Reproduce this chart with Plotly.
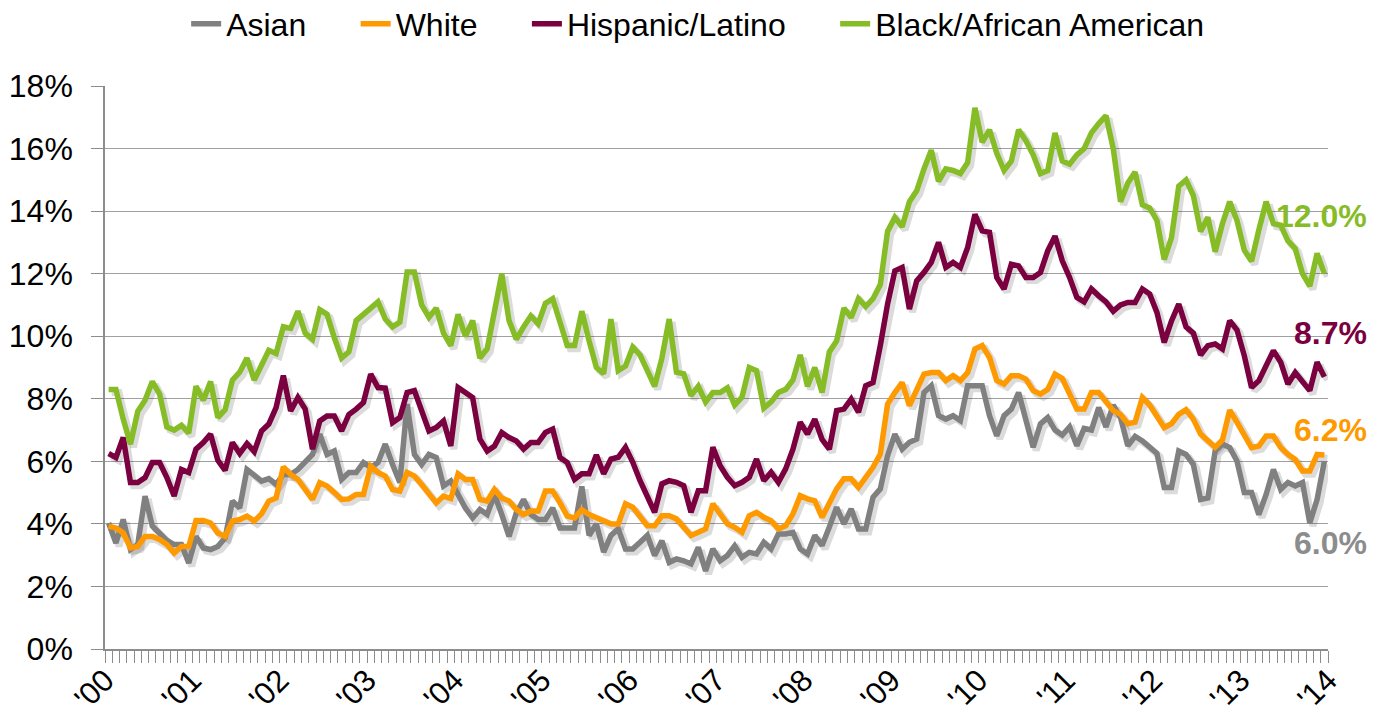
import plotly.graph_objects as go

# Monthly unemployment rates, Jan 2000 - Dec 2013 (%)
asian = [4.03, 3.39, 4.14, 3.18, 3.34, 4.89, 3.93, 3.71, 3.47, 3.34, 3.34, 2.75,
         3.6, 3.23, 3.18, 3.28, 3.55, 4.73, 4.51, 5.74, 5.58, 5.37, 5.45, 5.26,
         5.58, 5.58, 5.74, 5.96, 6.22, 6.87, 6.22, 6.33, 5.42, 5.64, 5.64, 5.96,
         5.8, 5.96, 6.55, 5.9, 5.32, 7.83, 6.22, 5.9, 6.22, 6.12, 5.21, 5.37,
         4.94, 4.51, 4.19, 4.46, 4.3, 4.94, 4.3, 3.6, 4.35, 4.78, 4.3, 4.14,
         4.14, 4.51, 3.87, 3.87, 3.87, 5.2, 3.63, 4.0, 3.1, 3.63, 3.84, 3.2,
         3.2, 3.41, 3.63, 2.99, 3.46, 2.77, 2.88, 2.82, 2.72, 3.25, 2.5, 3.2,
         2.82, 2.99, 3.3, 2.93, 3.09, 3.04, 3.41, 3.2, 3.68, 3.68, 3.73, 3.2,
         3.04, 3.63, 3.31, 3.9, 4.53, 4.0, 4.48, 3.84, 3.84, 4.85, 5.12, 6.18,
         6.87, 6.39, 6.61, 6.71, 8.2, 8.42, 7.46, 7.35, 7.46, 7.3, 8.42, 8.42,
         8.42, 7.46, 6.82, 7.46, 7.67, 8.2, 7.35, 6.45, 7.2, 7.4, 7.0, 6.84,
         7.1, 6.5, 7.05, 7.0, 7.72, 7.1, 7.8, 7.4, 6.5, 6.8, 6.65, 6.45,
         6.25, 5.16, 5.16, 6.33, 6.22, 5.9, 4.78, 4.83, 6.33, 6.55, 6.44, 6.01,
         5.0, 5.0, 4.3, 4.94, 5.74, 5.1, 5.32, 5.21, 5.32, 4.03, 4.78, 6.0]

white = [3.93, 3.87, 3.71, 3.23, 3.28, 3.6, 3.6, 3.5, 3.34, 3.07, 3.28, 3.28,
         4.11, 4.11, 4.03, 3.71, 3.6, 4.09, 4.14, 4.25, 4.09, 4.32, 4.73, 4.83,
         5.82, 5.58, 5.42, 5.1, 4.78, 5.32, 5.21, 5.0, 4.78, 4.8, 4.94, 4.94,
         5.85, 5.64, 5.53, 5.1, 5.05, 5.64, 5.53, 5.26, 4.94, 4.67, 4.89, 4.81,
         5.6, 5.42, 5.42, 4.78, 4.73, 5.1, 4.83, 4.73, 4.46, 4.3, 4.41, 4.41,
         5.05, 5.05, 4.67, 4.25, 4.19, 4.45, 4.3, 4.2, 4.1, 4.0, 4.0, 4.64,
         4.53, 4.26, 3.94, 3.94, 4.26, 4.26, 4.16, 3.89, 3.63, 3.73, 3.84, 4.64,
         4.32, 4.0, 3.89, 3.73, 4.26, 4.37, 4.21, 4.1, 3.84, 3.94, 4.32, 4.9,
         4.8, 4.74, 4.21, 4.7, 5.12, 5.44, 5.44, 5.17, 5.49, 5.81, 6.23, 7.83,
         8.2, 8.52, 7.78, 8.31, 8.79, 8.84, 8.84, 8.58, 8.74, 8.58, 8.84, 9.59,
         9.7, 9.32, 8.58, 8.47, 8.74, 8.74, 8.63, 8.26, 8.15, 8.3, 8.79, 8.65,
         8.2, 7.67, 7.67, 8.2, 8.2, 7.88, 7.62, 7.5, 7.2, 7.25, 8.04, 7.8,
         7.46, 7.08, 7.2, 7.5, 7.65, 7.35, 6.87, 6.63, 6.45, 6.68, 7.64, 7.25,
         6.87, 6.44, 6.49, 6.81, 6.81, 6.44, 6.22, 6.06, 5.69, 5.69, 6.22, 6.2]

hispanic = [6.25, 6.12, 6.76, 5.32, 5.32, 5.48, 5.96, 5.96, 5.48, 4.89, 5.74, 5.64,
            6.39, 6.6, 6.87, 6.03, 5.71, 6.6, 6.25, 6.57, 6.31, 6.97, 7.19, 7.72,
            8.74, 7.61, 8.04, 7.67, 6.39, 7.29, 7.45, 7.45, 6.97, 7.5, 7.67, 7.88,
            8.79, 8.36, 8.34, 7.24, 7.4, 8.2, 8.26, 7.61, 6.97, 7.08, 7.29, 6.49,
            8.36, 8.2, 8.04, 6.71, 6.33, 6.49, 6.92, 6.76, 6.65, 6.39, 6.6, 6.6,
            6.92, 7.03, 6.12, 5.96, 5.42, 5.6, 5.6, 6.2, 5.6, 6.07, 6.13, 6.45,
            5.97, 5.38, 4.85, 4.37, 5.28, 5.38, 5.33, 5.22, 4.37, 5.06, 5.06, 6.45,
            5.86, 5.49, 5.22, 5.33, 5.49, 6.07, 5.38, 5.65, 5.33, 5.76, 6.39, 7.25,
            6.87, 7.35, 6.7, 6.39, 7.62, 7.67, 7.99, 7.57, 8.42, 8.52, 9.7, 11.03,
            12.09, 12.2, 10.87, 11.77, 12.04, 12.36, 13.0, 12.2, 12.36, 12.2, 12.84, 13.9,
            13.37, 13.32, 11.88, 11.51, 12.3, 12.25, 11.88, 11.88, 12.04, 12.73, 13.2, 12.41,
            11.88, 11.24, 11.1, 11.51, 11.29, 11.1, 10.8, 11.0, 11.08, 11.08, 11.51, 11.35,
            10.76, 9.8, 10.49, 11.03, 10.3, 10.1, 9.4, 9.7, 9.75, 9.59, 10.5, 10.2,
            9.38, 8.36, 8.58, 9.05, 9.54, 9.17, 8.47, 8.84, 8.55, 8.26, 9.17, 8.7]

black = [8.3, 8.3, 7.35, 6.55, 7.6, 7.95, 8.55, 8.15, 7.1, 7.0, 7.15, 6.9,
         8.4, 7.95, 8.55, 7.4, 7.65, 8.6, 8.85, 9.3, 8.6, 9.1, 9.55, 9.45,
         10.3, 10.25, 10.8, 10.1, 9.9, 10.85, 10.7, 9.95, 9.3, 9.5, 10.5, 10.7,
         10.9, 11.1, 10.55, 10.3, 10.45, 12.05, 12.05, 11.0, 10.6, 10.9, 10.1, 9.7,
         10.7, 10.0, 10.5, 9.3, 9.6, 10.9, 12.0, 10.5, 9.9, 10.3, 10.65, 10.4,
         11.05, 11.2, 10.45, 9.7, 9.7, 10.8, 9.85, 9.0, 8.8, 10.55, 8.9, 9.05,
         9.65, 9.4, 8.9, 8.4, 9.3, 10.55, 8.85, 8.8, 8.1, 8.4, 7.9, 8.2,
         8.2, 8.35, 7.8, 8.05, 9.0, 8.9, 7.7, 7.9, 8.2, 8.3, 8.6, 9.4,
         8.4, 9.0, 8.2, 9.5, 9.85, 10.9, 10.6, 11.2, 10.95, 11.2, 11.65, 13.35,
         13.8, 13.5, 14.3, 14.65, 15.35, 15.95, 14.95, 15.35, 15.3, 15.2, 15.55, 17.3,
         16.2, 16.6, 15.85, 15.3, 15.6, 16.6, 16.25, 15.8, 15.2, 15.3, 16.5, 15.6,
         15.5, 15.8, 16.0, 16.5, 16.8, 17.05, 16.0, 14.3, 14.9, 15.25, 14.2, 14.1,
         13.7, 12.45, 13.15, 14.8, 15.0, 14.5, 13.35, 13.8, 12.7, 13.6, 14.3, 13.7,
         12.75, 12.4, 13.4, 14.3, 13.6, 13.55, 13.05, 12.8, 12.0, 11.6, 12.65, 12.0]

series_names = ["Asian", "White", "Hispanic/Latino", "Black/African American"]
series_values = [asian, white, hispanic, black]
series_colors = ["#808080", "#FF9900", "#7A0040", "#86BC25"]
label_colors = ["#8C8C8C", "#FF9900", "#7A0040", "#86BC25"]
label_y = [3.4, 7.0, 10.1, 13.85]

year_labels = ["'00", "'01", "'02", "'03", "'04", "'05", "'06", "'07",
               "'08", "'09", "'10", "'11", "'12", "'13", "'14"]

n_months = len(black)
months = [i + 0.5 for i in range(n_months)]

FONT = "Liberation Sans, Arial, sans-serif"
PAD = "\u00a0" * 5   # extra spacing between legend entries

fig = go.Figure()

# soft drop shadows (drawn on an offset, hidden axis pair)
for vals in series_values:
    fig.add_trace(go.Scatter(
        x=months, y=vals, mode="lines", xaxis="x", yaxis="y",
        line=dict(color="rgba(0,0,0,0.14)", width=7),
        showlegend=False, hoverinfo="skip"))

for i, (name, vals, col) in enumerate(zip(series_names, series_values, series_colors)):
    fig.add_trace(go.Scatter(
        x=months, y=vals, mode="lines",
        name=name + (PAD if i < len(series_names) - 1 else ""),
        xaxis="x2", yaxis="y2",
        line=dict(color=col, width=5.5)))

for vals, col, ly in zip(series_values, label_colors, label_y):
    fig.add_annotation(
        xref="paper", yref="y2", x=1.0335, y=ly,
        text=f"{vals[-1]:.1f}%", showarrow=False,
        xanchor="right", yanchor="middle",
        font=dict(family=FONT, size=32, color=col, weight="bold"))

dx = 0.42   # shadow offset (months)
dy = 0.10   # shadow offset (%)
axis_col = "#8C8C8C"

# the page body adds an 8px margin, so the figure is 8px smaller
fig.update_layout(
    width=1369, height=710,
    margin=dict(l=97, r=49, t=78, b=69, autoexpand=False),
    paper_bgcolor="white", plot_bgcolor="white",
    font=dict(family=FONT, color="#000000"),
    xaxis=dict(range=[0 - dx, n_months - dx], visible=False, fixedrange=True),
    yaxis=dict(range=[0 + dy, 18 + dy], visible=False, fixedrange=True),
    xaxis2=dict(
        overlaying="x", range=[0, n_months], automargin=False,
        tickmode="array", tickvals=[12 * k for k in range(len(year_labels))],
        ticktext=year_labels, tickangle=-45,
        ticks="outside", ticklen=12, tickwidth=1.3, tickcolor=axis_col,
        minor=dict(dtick=1, tick0=0, ticks="outside", ticklen=12,
                   tickwidth=1.3, tickcolor=axis_col, showgrid=False),
        showgrid=False, zeroline=False,
        showline=True, linecolor=axis_col, linewidth=1.5,
        tickfont=dict(size=31, color="#000000"),
        ticklabelstandoff=-13,
    ),
    yaxis2=dict(
        overlaying="y", range=[0, 18], tickmode="linear", tick0=0, dtick=2,
        automargin=False,
        ticksuffix="%", ticks="outside", ticklen=12, tickwidth=1.3,
        tickcolor=axis_col,
        showgrid=True, gridcolor="#A0A0A0", gridwidth=1.3,
        zeroline=False, showline=True, linecolor=axis_col, linewidth=1.5,
        tickfont=dict(size=32, color="#000000"),
        ticklabelstandoff=12,
    ),
    legend=dict(
        orientation="h", x=0.485, xanchor="center", y=1.11, yanchor="middle",
        font=dict(size=32, color="#000000"), bgcolor="rgba(0,0,0,0)",
        itemwidth=30,
    ),
    showlegend=True,
)

fig.write_html("out.html")
